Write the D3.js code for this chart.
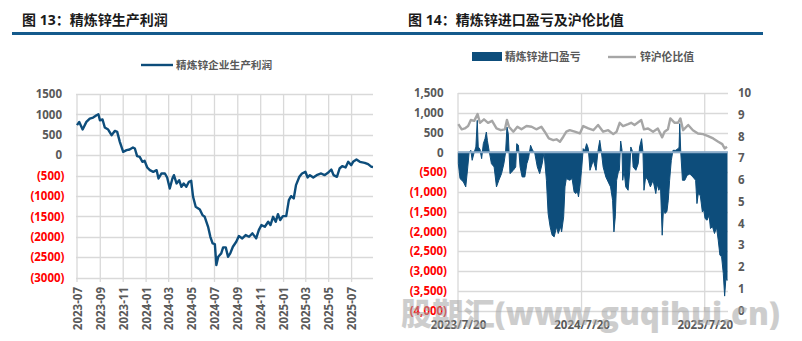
<!DOCTYPE html>
<html>
<head>
<meta charset="utf-8">
<script src="https://cdn.jsdelivr.net/npm/d3@7"></script>
<style>
  html, body { margin: 0; padding: 0; background: #fff; }
  svg { display: block; }
  text { font-family: "Open Sans", "Noto Sans CJK SC", sans-serif; }
</style>
</head>
<body>
<svg id="chart" width="802" height="341"></svg>
<script>
// ---- Figure 13: refined zinc production profit (CNY/t) ----
const profitDates = [
  "2023-07-01","2023-07-07","2023-07-16","2023-07-26","2023-08-04","2023-08-13","2023-08-22","2023-08-27",
  "2023-08-31","2023-09-07","2023-09-13","2023-09-22","2023-10-01","2023-10-10","2023-10-16","2023-10-23",
  "2023-11-01","2023-11-10","2023-11-18","2023-11-27","2023-12-02","2023-12-08","2023-12-15","2023-12-22",
  "2023-12-28","2024-01-04","2024-01-11","2024-01-20","2024-01-29","2024-02-03","2024-02-11","2024-02-20",
  "2024-02-26","2024-03-04","2024-03-11","2024-03-15","2024-03-22","2024-03-29","2024-04-04","2024-04-10",
  "2024-04-17","2024-04-24","2024-04-30","2024-05-05","2024-05-12","2024-05-23","2024-05-30","2024-06-05",
  "2024-06-14","2024-06-20","2024-06-26","2024-07-02","2024-07-06","2024-07-11","2024-07-19","2024-07-24",
  "2024-07-31","2024-08-06","2024-08-12","2024-08-19","2024-08-28","2024-09-04","2024-09-13","2024-09-22",
  "2024-10-01","2024-10-10","2024-10-20","2024-10-27","2024-11-03","2024-11-12","2024-11-21","2024-11-27",
  "2024-12-04","2024-12-11","2024-12-17","2024-12-23","2024-12-30","2025-01-08","2025-01-15","2025-01-21",
  "2025-01-28","2025-02-03","2025-02-12","2025-02-19","2025-02-28","2025-03-06","2025-03-12","2025-03-21",
  "2025-03-30","2025-04-11","2025-04-20","2025-04-29","2025-05-08","2025-05-14","2025-05-23","2025-05-30",
  "2025-06-06","2025-06-15","2025-06-22","2025-06-30","2025-07-05","2025-07-14","2025-07-23","2025-08-05",
  "2025-08-14","2025-08-23","2025-08-27"
];
const profitValues = [
  735, 816, 629, 816, 898, 923, 980, 1004,
  857, 874, 678, 629, 490, 596, 571, 327,
  82, 122, 139, 188, 163, -25, -41, -163,
  -139, -302, -368, -408, -368, -572, -449, -449,
  -547, -817, -572, -490, -694, -613, -776, -694,
  -776, -653, -629, -1021, -1266, -1331, -1470, -1511,
  -1756, -2001, -2165, -2180, -2695, -2491, -2409, -2262,
  -2262, -2491, -2409, -2246, -2123, -1985, -2041, -1960,
  -2001, -1918, -2041, -1838, -1715, -1756, -1634, -1715,
  -1511, -1634, -1446, -1592, -1494, -1494, -1102, -1005,
  -1062, -735, -531, -449, -408, -547, -490, -547,
  -490, -449, -490, -433, -351, -490, -531, -327,
  -270, -302, -163, -245, -163, -106, -163, -188,
  -221, -286, -290
];
const profitTicks = [1500, 1000, 500, 0, -500, -1000, -1500, -2000, -2500, -3000];

// ---- Figure 14: refined zinc import profit/loss (CNY/t) and SHFE/LME ratio ----
const importDates = [
  "2023-07-21","2023-07-26","2023-08-05","2023-08-12","2023-08-18","2023-08-22","2023-08-27","2023-08-31",
  "2023-09-06","2023-09-11","2023-09-15","2023-09-18","2023-09-23","2023-09-28","2023-10-03","2023-10-08",
  "2023-10-12","2023-10-15","2023-10-20","2023-10-27","2023-11-04","2023-11-11","2023-11-18","2023-11-26",
  "2023-12-03","2023-12-08","2023-12-12","2023-12-16","2023-12-21","2023-12-31","2024-01-07","2024-01-10",
  "2024-01-15","2024-01-20","2024-01-26","2024-02-03","2024-02-09","2024-02-14","2024-02-20","2024-02-26",
  "2024-03-03","2024-03-11","2024-03-18","2024-03-25","2024-03-31","2024-04-07","2024-04-12","2024-04-18",
  "2024-04-24","2024-04-30","2024-05-07","2024-05-12","2024-05-19","2024-05-22","2024-05-28","2024-06-01",
  "2024-06-05","2024-06-15","2024-06-22","2024-06-28","2024-07-03","2024-07-08","2024-07-11","2024-07-15",
  "2024-07-20","2024-07-25","2024-07-30","2024-08-04","2024-08-09","2024-08-14","2024-08-24","2024-09-01",
  "2024-09-07","2024-09-12","2024-09-17","2024-09-22","2024-09-30","2024-10-07","2024-10-14","2024-10-20",
  "2024-10-24","2024-10-28","2024-11-01","2024-11-06","2024-11-09","2024-11-13","2024-11-17","2024-11-19",
  "2024-11-23","2024-11-28","2024-12-05","2024-12-10","2024-12-13","2024-12-17","2024-12-20","2024-12-28",
  "2025-01-04","2025-01-08","2025-01-14","2025-01-18","2025-01-21","2025-01-26","2025-02-02","2025-02-09",
  "2025-02-17","2025-02-25","2025-03-01","2025-03-06","2025-03-11","2025-03-16","2025-03-20","2025-03-24",
  "2025-03-30","2025-04-03","2025-04-07","2025-04-12","2025-04-17","2025-04-25","2025-05-02","2025-05-05",
  "2025-05-07","2025-05-10","2025-05-15","2025-05-22","2025-05-29","2025-06-06","2025-06-15","2025-06-23",
  "2025-06-27","2025-07-01","2025-07-07","2025-07-13","2025-07-17","2025-07-21","2025-07-27","2025-08-02",
  "2025-08-06","2025-08-12","2025-08-18","2025-08-24","2025-08-29","2025-09-03","2025-09-08","2025-09-13",
  "2025-09-17","2025-09-21","2025-09-24"
];
const importPL = [
  -286, -665, -749, -875, -370, 0, 50, -202,
  0, 135, 808, 135, 80, -160, 219, 345,
  513, 303, 50, -286, -370, -875, -707, -539,
  -286, 0, 640, 471, -539, -455, -370, 219,
  180, -370, -623, -623, -286, -150, 177, 50,
  0, -370, -539, -300, 0, -707, -1548, -1885,
  -2096, -2138, -1885, -2053, -1880, -2012, -1633, -875,
  -665, -707, -665, -1002, -1043, -1000, -1128, -875,
  -455, 93, 50, 219, 100, -455, -202, -455,
  50, 303, 0, -370, -623, -749, -875, -1212,
  -2012, -1633, -707, -500, -455, 286, 50, -707,
  -455, -875, -960, -455, 135, 50, -370, -455,
  -286, 135, 345, 0, -960, -623, -707, -875,
  -707, -1043, -800, -960, -875, -2096, -1380, -1548,
  -1500, -1212, -707, -202, 50, 50, 93, 130,
  724, 0, -707, -707, -581, -550, -623, -707,
  -1296, -1043, -1100, -1507, -1450, -1675, -1717, -1591,
  -1927, -1880, -2053, -1900, -2222, -2601, -2643, -3063,
  -3636, -3155, -3240
];
const ratioDates = [
  "2023-07-21","2023-07-31","2023-08-09","2023-08-19","2023-08-27","2023-09-06","2023-09-16","2023-09-23",
  "2023-10-05","2023-10-17","2023-10-29","2023-11-11","2023-11-24","2023-12-06","2023-12-12","2023-12-18",
  "2023-12-31","2024-01-12","2024-01-24","2024-02-08","2024-02-23","2024-03-08","2024-03-23","2024-04-02",
  "2024-04-14","2024-04-27","2024-05-07","2024-05-17","2024-05-27","2024-06-05","2024-06-15","2024-06-30",
  "2024-07-15","2024-07-25","2024-08-09","2024-08-24","2024-09-07","2024-09-22","2024-10-07","2024-10-22",
  "2024-11-01","2024-11-10","2024-11-20","2024-12-05","2024-12-14","2024-12-24","2025-01-06","2025-01-13",
  "2025-01-21","2025-02-02","2025-02-17","2025-03-03","2025-03-16","2025-03-23","2025-04-02","2025-04-09",
  "2025-04-22","2025-05-02","2025-05-09","2025-05-17","2025-06-01","2025-06-15","2025-06-30","2025-07-15",
  "2025-07-30","2025-08-14","2025-08-29","2025-09-10","2025-09-17","2025-09-24"
];
const ratioValues = [
  8.57, 8.33, 8.37, 8.48, 8.76, 8.72, 9.03, 8.63,
  8.79, 8.63, 8.72, 8.37, 8.29, 8.33, 8.76, 8.45,
  8.22, 8.45, 8.33, 8.48, 8.45, 8.33, 8.45, 8.22,
  7.91, 7.83, 7.87, 7.76, 7.99, 8.22, 8.29, 8.22,
  8.14, 8.48, 8.37, 8.29, 8.53, 8.22, 8.29, 8.11,
  8.22, 8.63, 8.48, 8.57, 8.63, 8.53, 8.68, 8.76,
  8.33, 8.37, 8.22, 8.37, 7.96, 8.22, 8.33, 8.83,
  8.63, 8.63, 8.83, 8.29, 8.53, 8.29, 8.14, 8.11,
  8.02, 7.91, 7.76, 7.65, 7.45, 7.53
];
const plTicks = [1500, 1000, 500, 0, -500, -1000, -1500, -2000, -2500, -3000, -3500, -4000];
const ratioTicks = [0, 1, 2, 3, 4, 5, 6, 7, 8, 9, 10];
const yearTicks = ["2023-07-20", "2024-07-20", "2025-07-20"];

const parse = d3.timeParse("%Y-%m-%d");
const svg = d3.select("#chart");

const BLUE = "#0d4d7b";
const GRID = "#d9d9d9";
const LABEL = "#595959";
const NEG = "#ff0000";

// Section titles and the rule beneath them
svg.append("text").attr("x", 22).attr("y", 25)
  .attr("font-family", "'Noto Sans CJK SC', sans-serif").attr("font-weight", 700)
  .attr("font-size", 14).attr("fill", "#1a1a1a").text("图 13：精炼锌生产利润");
svg.append("text").attr("x", 408).attr("y", 25)
  .attr("font-family", "'Noto Sans CJK SC', sans-serif").attr("font-weight", 700)
  .attr("font-size", 14).attr("fill", "#1a1a1a").text("图 14：精炼锌进口盈亏及沪伦比值");
svg.append("rect").attr("x", 12).attr("y", 32).attr("width", 751).attr("height", 3).attr("fill", "#145a8c");

function styleLabels(g, size) {
  g.selectAll("text")
    .attr("font-size", size).attr("font-weight", 700)
    .attr("fill", LABEL);
}

// ================= Left chart =================
{
  const x = d3.scaleTime()
    .domain([parse("2023-07-01"), parse("2025-08-27")])
    .range([77, 373]);
  const y = d3.scaleLinear().domain([-3000, 1500]).range([277.5, 94]);

  const monthTicks = d3.timeMonth.every(2).range(parse("2023-07-01"), parse("2025-07-02"));

  // horizontal grid
  svg.append("g").selectAll("line").data(profitTicks).join("line")
    .attr("x1", 76).attr("x2", 373)
    .attr("y1", d => Math.round(y(d)) + 0.5).attr("y2", d => Math.round(y(d)) + 0.5)
    .attr("stroke", GRID).attr("stroke-width", 1.3);
  // vertical grid
  svg.append("g").selectAll("line").data(monthTicks).join("line")
    .attr("x1", d => x(d)).attr("x2", d => x(d))
    .attr("y1", 94).attr("y2", 282)
    .attr("stroke", GRID).attr("stroke-width", 1.3);

  // y axis labels
  const yAxis = svg.append("g").attr("transform", "translate(76,0)")
    .call(d3.axisLeft(y).tickValues(profitTicks).tickSize(0).tickPadding(14)
      .tickFormat(d => d < 0 ? `(${-d})` : `${d}`));
  yAxis.select(".domain").remove();
  styleLabels(yAxis, 11.5);
  yAxis.selectAll("text").filter(d => d < 0).attr("fill", NEG).attr("dx", 2.5);

  // x axis labels (rotated)
  const xAxis = svg.append("g").attr("transform", "translate(0,283)")
    .call(d3.axisBottom(x).tickValues(monthTicks).tickSize(0).tickFormat(d3.timeFormat("%Y-%m")));
  xAxis.select(".domain").remove();
  styleLabels(xAxis, 11.5);
  xAxis.selectAll("text")
    .attr("text-anchor", "end")
    .attr("transform", "rotate(-90)")
    .attr("x", -4).attr("y", 0).attr("dy", "0.36em");

  // profit line
  const series = profitDates.map((d, i) => ({ date: parse(d), value: profitValues[i] }));
  svg.append("path").datum(series)
    .attr("fill", "none").attr("stroke", BLUE).attr("stroke-width", 2.4)
    .attr("stroke-linejoin", "round")
    .attr("d", d3.line().x(d => x(d.date)).y(d => y(d.value)));

  // legend
  svg.append("line").attr("x1", 141).attr("x2", 173).attr("y1", 65).attr("y2", 65)
    .attr("stroke", BLUE).attr("stroke-width", 2.4);
  svg.append("text").attr("x", 176).attr("y", 69)
    .attr("font-family", "'Noto Sans CJK SC', sans-serif").attr("font-weight", 700)
    .attr("font-size", 10.7).attr("fill", LABEL).text("精炼锌企业生产利润");
}

// ================= Right chart =================
{
  const x = d3.scaleTime()
    .domain([parse("2023-07-20"), parse("2025-09-24")])
    .range([458, 727]);
  const y = d3.scaleLinear().domain([-4000, 1500]).range([310.5, 93]);
  const y2 = d3.scaleLinear().domain([0, 10]).range([310.5, 93]);
  const yearDates = yearTicks.map(parse);

  // horizontal grid
  svg.append("g").selectAll("line").data(plTicks).join("line")
    .attr("x1", 458).attr("x2", 728)
    .attr("y1", d => Math.round(y(d)) + 0.5).attr("y2", d => Math.round(y(d)) + 0.5)
    .attr("stroke", GRID).attr("stroke-width", 1.3);
  // vertical grid at year marks
  svg.append("g").selectAll("line").data(yearDates).join("line")
    .attr("x1", d => x(d)).attr("x2", d => x(d))
    .attr("y1", 93).attr("y2", 311)
    .attr("stroke", GRID).attr("stroke-width", 1.3);

  // import profit/loss area
  const pl = importDates.map((d, i) => ({ date: parse(d), value: importPL[i] }));
  svg.append("path").datum(pl)
    .attr("fill", BLUE).attr("stroke", BLUE).attr("stroke-width", 1)
    .attr("d", d3.area().x(d => x(d.date)).y0(y(0)).y1(d => y(d.value)));

  // zero baseline
  svg.append("line").attr("x1", 458).attr("x2", 728)
    .attr("y1", y(0)).attr("y2", y(0))
    .attr("stroke", "#8eaecb").attr("stroke-width", 2);

  // SHFE/LME ratio line
  const ratio = ratioDates.map((d, i) => ({ date: parse(d), value: ratioValues[i] }));
  svg.append("path").datum(ratio)
    .attr("fill", "none").attr("stroke", "#a6a6a6").attr("stroke-width", 2.4)
    .attr("stroke-linejoin", "round")
    .attr("d", d3.line().x(d => x(d.date)).y(d => y2(d.value)));

  // left axis labels
  const fmt = d3.format(",");
  const yAxis = svg.append("g").attr("transform", "translate(458,0)")
    .call(d3.axisLeft(y).tickValues(plTicks).tickSize(0).tickPadding(14.5)
      .tickFormat(d => d < 0 ? `(${fmt(-d)})` : fmt(d)));
  yAxis.select(".domain").remove();
  styleLabels(yAxis, 11.5);
  yAxis.selectAll("text").filter(d => d < 0).attr("fill", NEG).attr("dx", 3.5);

  // right axis labels
  const yAxis2 = svg.append("g").attr("transform", "translate(727,0)")
    .call(d3.axisRight(y2).tickValues(ratioTicks).tickSize(0).tickPadding(11));
  yAxis2.select(".domain").remove();
  styleLabels(yAxis2, 11.5);

  // x axis labels
  const xAxis = svg.append("g").attr("transform", "translate(0,318)")
    .call(d3.axisBottom(x).tickValues(yearDates).tickSize(0)
      .tickFormat(d => `${d.getFullYear()}/${d.getMonth() + 1}/${d.getDate()}`));
  xAxis.select(".domain").remove();
  styleLabels(xAxis, 11.5);

  // legend
  svg.append("rect").attr("x", 472).attr("y", 52).attr("width", 30).attr("height", 9).attr("fill", BLUE);
  svg.append("text").attr("x", 505).attr("y", 61)
    .attr("font-family", "'Noto Sans CJK SC', sans-serif").attr("font-weight", 700)
    .attr("font-size", 10.8).attr("fill", LABEL).text("精炼锌进口盈亏");
  svg.append("line").attr("x1", 608).attr("x2", 636).attr("y1", 57).attr("y2", 57)
    .attr("stroke", "#a6a6a6").attr("stroke-width", 2.4);
  svg.append("text").attr("x", 640).attr("y", 61)
    .attr("font-family", "'Noto Sans CJK SC', sans-serif").attr("font-weight", 700)
    .attr("font-size", 10.8).attr("fill", LABEL).text("锌沪伦比值");
}

// source watermark
svg.append("text").attr("x", 401).attr("y", 325)
  .attr("font-family", "'Noto Sans CJK SC', 'DejaVu Sans', sans-serif").attr("font-weight", 900)
  .attr("font-size", 31).attr("fill", "#a6a6a6").attr("opacity", 0.55)
  .attr("textLength", 379).attr("lengthAdjust", "spacingAndGlyphs")
  .text("股期汇(www.guqihui.cn)");
</script>
</body>
</html>
